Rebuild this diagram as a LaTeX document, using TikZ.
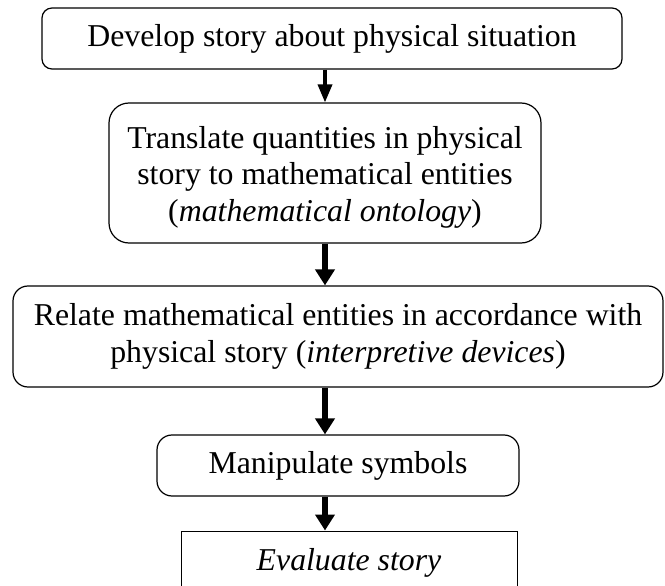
\documentclass[tikz,border=0pt]{standalone}
\usepackage{fontspec}
\setmainfont{Liberation Serif}
\usetikzlibrary{arrows.meta}
\begin{document}
\begin{tikzpicture}[x=1pt,y=-1pt,
  words/.style={align=center, inner sep=0pt,
    font=\fontsize{31.8}{36.5}\selectfont},
  stage/.style={words, draw=black, line width=1.2pt},
  flow/.style={line width=5.5pt, -{Triangle[width=19pt,length=16pt]}}]
\clip (0,0) rectangle (665,586);
\node[stage, rounded corners=10pt, minimum width=580pt, minimum height=61pt]
  (b1) at (332,38.5) {Develop story about physical situation};
\node[stage, rounded corners=20pt, minimum width=432pt, minimum height=140pt]
  (b2) at (325,173) {};
\node[words] (b2text) at (325,177) {Translate quantities in physical\\story to mathematical entities\\(\textit{mathematical ontology})};
\node[stage, rounded corners=15pt, minimum width=650pt, minimum height=101pt]
  (b3) at (338,336.5) {Relate mathematical entities in accordance with\\physical story (\textit{interpretive devices})};
\node[stage, rounded corners=15pt, minimum width=362pt, minimum height=61pt]
  (b4) at (338,465.5) {Manipulate symbols};
\node[stage, line width=1pt, minimum width=336pt, minimum height=64pt]
  (b5) at (349,563) {\textit{Evaluate story}};
\draw[flow, line width=3.5pt, -{Triangle[width=14pt,length=18pt]}] (b1.south -| b2) -- (b2.north);
\draw[flow] (b2.south) -- (b2.south |- b3.north);
\draw[flow] (b3.south -| b2) -- (b4.north -| b2);
\draw[flow] (b4.south -| b2) -- (b5.north -| b2);
\end{tikzpicture}
\end{document}
